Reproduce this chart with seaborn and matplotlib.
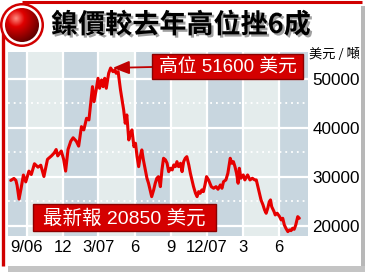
import numpy as np
import pandas as pd
import matplotlib
matplotlib.use("Agg")
import matplotlib.pyplot as plt
import seaborn as sns
from matplotlib.patches import Rectangle, Circle
from matplotlib.colors import LinearSegmentedColormap
import matplotlib.patheffects as pe
from matplotlib import font_manager

# ---------------- data ----------------
dates = [
    "2006-07-22", "2006-07-30", "2006-08-04", "2006-08-07", "2006-08-12", "2006-08-17",
    "2006-08-23", "2006-08-29", "2006-09-06", "2006-09-12", "2006-09-20", "2006-09-29",
    "2006-10-06", "2006-10-14", "2006-10-23", "2006-11-02", "2006-11-09", "2006-11-14",
    "2006-11-18", "2006-11-27", "2006-12-03", "2006-12-08", "2006-12-14", "2006-12-21",
    "2006-12-27", "2007-01-04", "2007-01-10", "2007-01-17", "2007-01-23", "2007-01-30",
    "2007-02-05", "2007-02-11", "2007-02-14", "2007-02-18", "2007-02-24", "2007-02-28",
    "2007-03-04", "2007-03-09", "2007-03-13", "2007-03-17", "2007-03-21", "2007-03-27",
    "2007-04-01", "2007-04-07", "2007-04-12", "2007-04-15", "2007-04-20", "2007-04-26",
    "2007-04-30", "2007-05-04", "2007-05-08", "2007-05-12", "2007-05-17", "2007-05-21",
    "2007-05-25", "2007-05-30", "2007-06-03", "2007-06-07", "2007-06-11", "2007-06-15",
    "2007-06-19", "2007-06-23", "2007-06-28", "2007-07-02", "2007-07-06", "2007-07-10",
    "2007-07-14", "2007-07-19", "2007-07-23", "2007-07-27", "2007-07-31", "2007-08-05",
    "2007-08-09", "2007-08-13", "2007-08-18", "2007-08-22", "2007-08-26", "2007-08-31",
    "2007-09-04", "2007-09-08", "2007-09-12", "2007-09-16", "2007-09-20", "2007-09-25",
    "2007-09-29", "2007-10-03", "2007-10-07", "2007-10-11", "2007-10-16", "2007-10-20",
    "2007-10-24", "2007-10-28", "2007-11-02", "2007-11-06", "2007-11-10", "2007-11-14",
    "2007-11-18", "2007-11-22", "2007-11-26", "2007-11-30", "2007-12-05", "2007-12-12",
    "2007-12-18", "2007-12-24", "2007-12-29", "2008-01-04", "2008-01-08", "2008-01-12",
    "2008-01-18", "2008-01-23", "2008-01-29", "2008-02-02", "2008-02-06", "2008-02-10",
    "2008-02-14", "2008-02-18", "2008-02-21", "2008-02-25", "2008-03-02", "2008-03-06",
    "2008-03-13", "2008-03-19", "2008-03-25", "2008-03-31", "2008-04-04", "2008-04-08",
    "2008-04-12", "2008-04-16", "2008-04-21", "2008-04-25", "2008-04-29", "2008-05-03",
    "2008-05-07", "2008-05-10", "2008-05-13", "2008-05-19", "2008-05-22", "2008-05-27",
    "2008-06-02", "2008-06-06", "2008-06-10", "2008-06-14", "2008-06-18", "2008-06-23",
    "2008-06-27", "2008-07-01", "2008-07-05", "2008-07-09", "2008-07-13", "2008-07-18",
    "2008-07-22",
]
prices = [
    29300, 29700, 29300, 28300, 25500, 27600,
    30400, 29000, 31200, 30500, 32700, 32000,
    32400, 30100, 33600, 34300, 34900, 35600,
    34300, 35300, 33600, 31200, 35600, 37300,
    38000, 37300, 36300, 40270, 39600, 41980,
    41640, 46060, 48430, 45370, 48100, 50140,
    48100, 49800, 48430, 50140, 48100, 51160,
    52240, 51490, 51840, 51160, 51490, 47760,
    45720, 43680, 40960, 42660, 37560, 38920,
    39600, 36190, 36880, 34150, 32110, 34150,
    35520, 33480, 31440, 29740, 28720, 27360,
    25990, 27360, 28720, 29740, 30070, 28030,
    31440, 33820, 33480, 32800, 31090, 31780,
    31440, 32460, 32110, 33130, 32110, 32800,
    31090, 33130, 33820, 34150, 32460, 30760,
    29400, 28030, 26680, 25990, 27010, 26680,
    27360, 27010, 28380, 30070, 29400, 28030,
    27700, 28030, 27500, 28380, 27700, 29050,
    29400, 30760, 33820, 32800, 33130, 32110,
    30760, 28720, 31780, 29740, 30420, 29400,
    30420, 29400, 29740, 29400, 29400, 28030,
    26680, 25320, 24300, 23280, 22600, 23620,
    24970, 25320, 23950, 22930, 22260, 22600,
    21910, 21240, 21580, 20220, 19540, 18850,
    19200, 19050, 19540, 19330, 20220, 21910,
    21580,
]
tick_dates = ["2006-09-01", "2006-12-01", "2007-03-01", "2007-06-01",
              "2007-09-01", "2007-12-01", "2008-03-01", "2008-06-01"]
tick_labels = ["9/06", "12", "3/07", "6", "9", "12/07", "3", "6"]
y_major = [20000, 30000, 40000, 50000]
y_minor = [25000, 35000, 45000]
title = "鎳價較去年高位挫6成"
unit_label = "美元 / 噸"
high_label = "高位 51600 美元"
latest_label = "最新報 20850 美元"

# ---------------- fonts ----------------
sns.set_theme(style="white")
names = {f.name for f in font_manager.fontManager.ttflist}
NUM = "Liberation Sans Narrow" if "Liberation Sans Narrow" in names else "Liberation Sans"
CJK = "Noto Sans CJK TC"
plt.rcParams["font.family"] = [NUM, CJK, "DejaVu Sans"]

W, H = 365, 274
fig = plt.figure(figsize=(W / 100, H / 100), dpi=100)
fig.patch.set_facecolor("white")

def pixel_axes(z):
    a = fig.add_axes([0, 0, 1, 1], zorder=z)
    a.set_xlim(0, W)
    a.set_ylim(H, 0)
    a.axis("off")
    return a

# ---------------- background frame ----------------
bg = pixel_axes(0)
bg.add_patch(Rectangle((361, 6), 4, 262, color="#b8b8b8", lw=0))
bg.add_patch(Rectangle((8, 266), 357, 6, color="#c4c4c4", lw=0))
bg.add_patch(Rectangle((4, 3), 357, 263, facecolor="white", lw=0))
bg.plot([22, 362], [2, 2], color="#d00000", lw=2.2, solid_capstyle="butt")
bg.plot([2.5, 2.5], [25, 266], color="#d00000", lw=2.4, solid_capstyle="butt")

# ---------------- main axes ----------------
L, R, T, B = 8, 308, 52, 236
ax = fig.add_axes([L / W, 1 - B / H, (R - L) / W, (B - T) / H], zorder=2)

df = pd.DataFrame({"date": pd.to_datetime(dates), "price": prices})
tks = pd.to_datetime(tick_dates)
xmin, xmax = pd.Timestamp("2006-07-15"), pd.Timestamp("2008-08-13")

edges = [xmin] + list(tks) + [xmax]
for i in range(len(edges) - 1):
    ax.axvspan(edges[i], edges[i + 1], color="#c8d6df" if i % 2 == 0 else "#e4ecec",
               lw=0, zorder=0)
for t in tks:
    ax.axvline(t, color="white", lw=1.6, zorder=1)
for v in y_major:
    ax.axhline(v, color="white", lw=1.6, zorder=1)
for v in y_minor:
    ax.axhline(v, color="white", lw=1.3, ls=(0, (1, 2.2)), zorder=1)

sns.lineplot(data=df, x="date", y="price", ax=ax, color="#e60000", lw=2.2, zorder=3)

ax.set_xlim(xmin, xmax)
ax.set_ylim(17960, 55500)
ax.set_xticks(tks)
ax.set_xticklabels(tick_labels)
ax.set_yticks(y_major)
ax.set_yticklabels([str(v) for v in y_major])
ax.yaxis.tick_right()
ax.tick_params(axis="y", length=0, pad=3, labelsize=12.3, colors="black")
ax.tick_params(axis="x", length=0, pad=3, labelsize=12, colors="black")
ax.set_xlabel("")
ax.set_ylabel("")
for s in ax.spines.values():
    s.set_visible(False)

# ---------------- foreground overlay ----------------
ov = pixel_axes(5)

# red ball icon
cx, cy = 22, 25
ov.add_patch(Circle((cx, cy), 22, color="#d00000", lw=0, zorder=3))
ov.add_patch(Circle((cx, cy), 19.5, color="white", lw=0, zorder=4))
gy, gx = np.mgrid[-1:1:120j, -1:1:120j]
r = np.sqrt((gx + 0.35) ** 2 + (gy + 0.4) ** 2)
grad = np.clip(r / 1.5, 0, 1)
cmap = LinearSegmentedColormap.from_list("ball", ["#ff8a80", "#e00000", "#a00000", "#600000"])
im = ov.imshow(grad, cmap=cmap, extent=(cx - 17, cx + 17, cy + 17, cy - 17), zorder=5,
               interpolation="bilinear")
im.set_clip_path(Circle((cx, cy), 17, transform=ov.transData))
ov.set_xlim(0, W)
ov.set_ylim(H, 0)

# title
ov.text(51, 25, title, fontsize=19.5, fontweight="heavy", family=[CJK, "DejaVu Sans"],
        color="black", va="center", ha="left", zorder=6,
        path_effects=[pe.withSimplePatchShadow(offset=(1.6, -1.6), shadow_rgbFace="#888888", alpha=0.8)])

# unit label
ov.text(334, 54, unit_label, fontsize=9.5, family=[CJK, "DejaVu Sans"], color="black",
        ha="center", va="center", zorder=6)

# annotation boxes
def box(x0, y0, x1, y1, label, fs):
    ov.add_patch(Rectangle((x0, y0), x1 - x0, y1 - y0, facecolor="#d40000",
                           edgecolor="#8c0000", lw=1.0, zorder=6))
    ov.text((x0 + x1) / 2, (y0 + y1) / 2 + 0.5, label, color="white", fontsize=fs,
            family=[NUM, CJK], ha="center", va="center", zorder=7)

box(152, 54, 303, 79, high_label, 13.5)
box(33, 204, 216, 231, latest_label, 14)

peak_i = int(np.argmax(prices))
ax.annotate("", xy=(df["date"][peak_i], prices[peak_i]), xycoords="data",
            xytext=(152, 67), textcoords=ov.transData,
            arrowprops=dict(arrowstyle="-|>,head_length=1.0,head_width=0.4",
                            color="#c00000", lw=1.3, mutation_scale=10,
                            shrinkA=0, shrinkB=1.5),
            zorder=6, annotation_clip=False)

fig.savefig("out.png", dpi=100, facecolor="white")
